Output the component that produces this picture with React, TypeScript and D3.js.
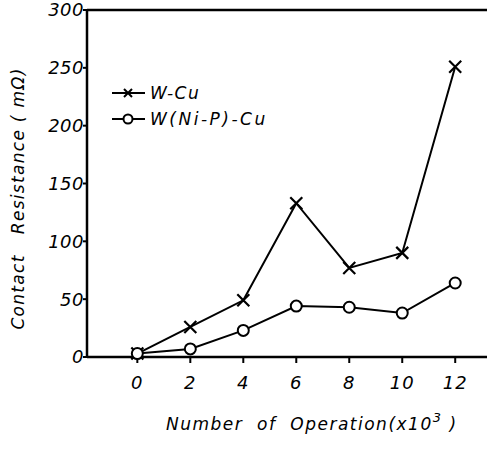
import * as d3 from "d3";

const ops = [0, 2, 4, 6, 8, 10, 12];
const wCu = [3, 26, 49, 133, 77, 90, 251];
const wNiPCu = [3, 7, 23, 44, 43, 38, 64];
const yTicks = [0, 50, 100, 150, 200, 250, 300];

const W = 487;
const H = 451;
const font = "'DejaVu Sans', sans-serif";

export default function App() {
  const x = d3.scaleLinear().domain([-1.9, 13.2]).range([87, 487]);
  const y = d3.scaleLinear().domain([0, 300]).range([357, 10]);

  const line = d3
    .line<number>()
    .x((_, i) => x(ops[i]))
    .y((d) => y(d));

  const cross = (cx: number, cy: number, s = 6) =>
    `M${cx - s},${cy - s}L${cx + s},${cy + s}M${cx - s},${cy + s}L${cx + s},${cy - s}`;

  return (
    <div style={{ position: "fixed", left: 0, top: 0 }}>
      <svg width={W} height={H} style={{ display: "block", background: "#fff" }}>
        {/* frame */}
        <line x1={87} x2={87} y1={y(300)} y2={y(0)} stroke="#000" strokeWidth={2.5} />
        <line x1={87} x2={W} y1={y(300)} y2={y(300)} stroke="#000" strokeWidth={2.5} />
        <line x1={87} x2={W} y1={y(0)} y2={y(0)} stroke="#000" strokeWidth={2.5} />

        {/* y ticks */}
        {yTicks.map((t) => (
          <g key={t}>
            <line x1={83} x2={87} y1={y(t)} y2={y(t)} stroke="#000" strokeWidth={2} />
            <text
              x={84}
              y={y(t)}
              dy="0.36em"
              textAnchor="end"
              fontFamily={font}
              fontStyle="italic"
              fontSize={18}
              letterSpacing={0.5}
            >
              {t}
            </text>
          </g>
        ))}

        {/* x ticks */}
        {ops.map((t) => (
          <g key={t}>
            <line x1={x(t)} x2={x(t)} y1={y(0)} y2={y(0) + 6} stroke="#000" strokeWidth={2} />
            <text
              x={x(t)}
              y={y(0) + 32}
              textAnchor="middle"
              fontFamily={font}
              fontStyle="italic"
              fontSize={18}
              letterSpacing={1}
            >
              {t}
            </text>
          </g>
        ))}

        {/* series */}
        <path d={line(wCu) ?? ""} fill="none" stroke="#000" strokeWidth={2} />
        <path d={line(wNiPCu) ?? ""} fill="none" stroke="#000" strokeWidth={2} />
        {wCu.map((v, i) => (
          <path key={"c" + i} d={cross(x(ops[i]), y(v))} stroke="#000" strokeWidth={2.2} />
        ))}
        {wNiPCu.map((v, i) => (
          <circle
            key={"o" + i}
            cx={x(ops[i])}
            cy={y(v)}
            r={5.5}
            fill="#fff"
            stroke="#000"
            strokeWidth={2}
          />
        ))}

        {/* legend */}
        <g fontFamily={font} fontStyle="italic" fontSize={17}>
          <line x1={112} x2={145} y1={93} y2={93} stroke="#000" strokeWidth={2} />
          <path d={cross(128, 93, 4)} stroke="#000" strokeWidth={2} fill="#fff" />
          <text x={150} y={99} letterSpacing={1.5}>W-Cu</text>
          <line x1={112} x2={145} y1={119} y2={119} stroke="#000" strokeWidth={2} />
          <circle cx={128} cy={119} r={4.5} fill="#fff" stroke="#000" strokeWidth={2} />
          <text x={150} y={125} letterSpacing={2.5}>W(Ni-P)-Cu</text>
        </g>

        {/* axis titles */}
        <text
          transform={`translate(24,${(y(0) + y(300)) / 2 + 15}) rotate(-90)`}
          textAnchor="middle"
          fontFamily={font}
          fontStyle="italic"
          fontSize={17}
          letterSpacing={1.3}
          style={{ whiteSpace: "pre" }}
        >
          {"Contact   Resistance ( mΩ)"}
        </text>
        <text
          x={166}
          y={430}
          fontFamily={font}
          fontStyle="italic"
          fontSize={17}
          letterSpacing={1.5}
          style={{ whiteSpace: "pre" }}
        >
          {"Number  of  Operation(x10"}
          <tspan dy={-8} fontSize={13}>3</tspan>
          <tspan dy={8}> )</tspan>
        </text>
      </svg>
    </div>
  );
}
